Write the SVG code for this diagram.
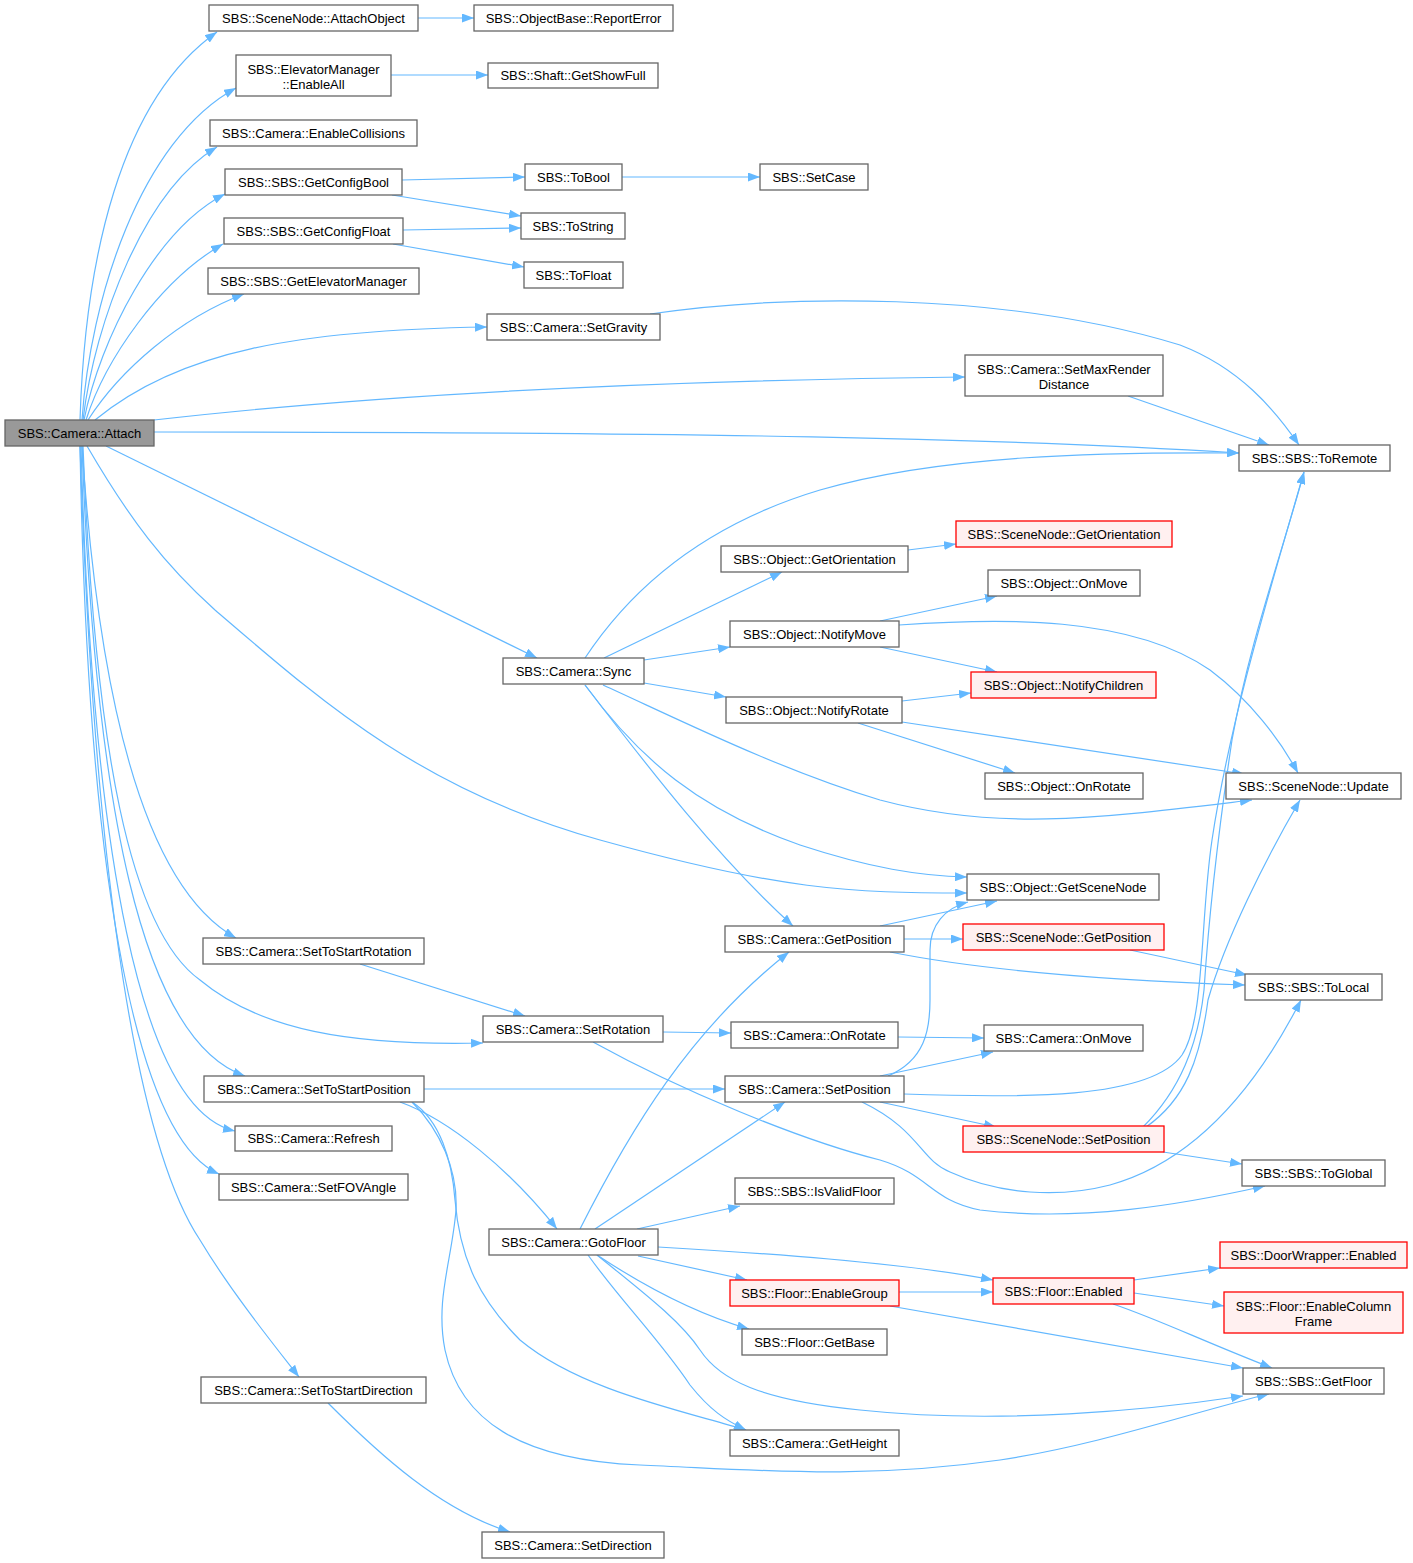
<svg xmlns="http://www.w3.org/2000/svg" width="1413" height="1563" viewBox="0 0 1413 1563">
<style>
.n rect{fill:#ffffff;stroke:#666666;stroke-width:1.3}
.r rect{fill:#fff0f0;stroke:#ff0000;stroke-width:1.3}
.g rect{fill:#999999;stroke:#666666;stroke-width:1.3}
text{font-family:"Liberation Sans",Arial,Helvetica,sans-serif;font-size:13px;fill:#000000;text-anchor:middle}
#edges path{fill:none;stroke:#63b8ff;stroke-width:1.2;marker-end:url(#a)}
</style>
<defs>
<marker id="a" markerWidth="12" markerHeight="9" refX="12" refY="4.5" orient="auto" markerUnits="userSpaceOnUse"><path d="M0,0 L12,4.5 L0,9 z" fill="#63b8ff"/></marker>
</defs>
<rect width="1413" height="1563" fill="#ffffff"/>
<g id="edges">
<path d="M80,420 C85,260 120,100 217,32"/>
<path d="M82,420 C90,300 140,140 236,88"/>
<path d="M83,420 C95,320 145,190 217,147"/>
<path d="M84,420 C100,340 155,230 225,194"/>
<path d="M86,420 C105,360 160,280 223,244"/>
<path d="M88,420 C120,370 180,318 244,294"/>
<path d="M95,420 C180,350 300,330 487,327"/>
<path d="M154,420 C400,392 700,380 965,377"/>
<path d="M154,432 C700,432 1000,438 1239,453"/>
<path d="M106,446 L537,658"/>
<path d="M87,446 C130,520 165,565 215,610 C320,700 420,790 600,840 C780,890 850,893 967,893"/>
<path d="M82,446 C100,720 150,890 236,938"/>
<path d="M83,446 C95,750 130,930 200,980 C260,1030 350,1046 483,1043"/>
<path d="M82,446 C95,800 140,1040 245,1076"/>
<path d="M81,446 C92,850 140,1110 235,1131"/>
<path d="M80,446 C88,900 140,1140 219,1174"/>
<path d="M80,446 C95,900 140,1150 200,1240 C230,1290 270,1340 299,1377"/>
<path d="M418,18 L474,18"/>
<path d="M391,75 L488,75"/>
<path d="M402,180 L525,177"/>
<path d="M392,195 L521,216"/>
<path d="M622,177 L760,177"/>
<path d="M403,230 L521,228"/>
<path d="M393,244 L524,267"/>
<path d="M650,314 C780,295 1000,290 1180,345 C1240,368 1275,410 1299,445"/>
<path d="M1128,396 L1269,445"/>
<path d="M585,658 C640,575 720,520 820,490 C940,455 1100,452 1239,453"/>
<path d="M604,658 L782,572"/>
<path d="M908,550 L956,544"/>
<path d="M644,660 L730,647"/>
<path d="M880,621 L997,596"/>
<path d="M880,647 L997,672"/>
<path d="M899,625 C1000,618 1130,615 1210,670 C1250,700 1280,740 1298,773"/>
<path d="M644,683 L726,697"/>
<path d="M902,701 L971,693"/>
<path d="M858,723 L1015,773"/>
<path d="M902,722 L1244,774"/>
<path d="M603,685 C680,720 780,770 880,800 C1000,832 1100,818 1252,800"/>
<path d="M585,685 C640,760 700,810 800,845 C870,868 920,876 967,877"/>
<path d="M585,685 C650,770 720,860 793,926"/>
<path d="M880,926 L997,901"/>
<path d="M904,939 L963,939"/>
<path d="M890,952 C980,970 1100,980 1245,985"/>
<path d="M1130,950 L1247,975"/>
<path d="M360,964 L525,1016"/>
<path d="M663,1032 L731,1033"/>
<path d="M898,1037 L984,1038"/>
<path d="M593,1042 C680,1090 800,1140 880,1160 C930,1175 930,1200 980,1210 C1080,1222 1180,1205 1265,1186"/>
<path d="M424,1089 L725,1089"/>
<path d="M400,1102 C450,1120 510,1170 557,1229"/>
<path d="M412,1102 C440,1120 452,1160 455,1200 C460,1260 480,1300 520,1340 C580,1390 680,1410 746,1430"/>
<path d="M412,1102 C440,1130 458,1170 456,1210 C452,1260 435,1300 445,1350 C460,1420 520,1460 640,1465 C760,1470 860,1480 1000,1460 C1100,1445 1200,1410 1269,1394"/>
<path d="M580,1229 C630,1130 690,1030 789,952"/>
<path d="M595,1229 L785,1102"/>
<path d="M637,1229 L740,1206"/>
<path d="M658,1247 C760,1253 900,1262 993,1280"/>
<path d="M638,1256 L747,1280"/>
<path d="M597,1255 C650,1290 700,1315 749,1329"/>
<path d="M588,1255 C620,1300 660,1340 690,1385 C710,1410 725,1420 746,1430"/>
<path d="M597,1255 C640,1290 680,1320 700,1350 C720,1380 760,1400 860,1410 C1000,1425 1150,1410 1243,1396"/>
<path d="M899,1292 L993,1292"/>
<path d="M890,1306 L1243,1368"/>
<path d="M1134,1280 L1220,1268"/>
<path d="M1134,1293 L1224,1306"/>
<path d="M1113,1304 C1160,1320 1200,1340 1272,1368"/>
<path d="M328,1403 C380,1455 440,1510 510,1532"/>
<path d="M888,1076 C925,1060 930,1030 930,1000 L930,950 C930,925 945,908 968,902"/>
<path d="M880,1076 L993,1052"/>
<path d="M904,1094 C1020,1098 1150,1100 1182,1055 C1205,1020 1200,920 1212,840 C1230,720 1270,590 1304,472"/>
<path d="M1143,1127 C1180,1090 1198,1045 1204,990 C1210,900 1220,820 1232,740 C1250,640 1280,560 1304,472"/>
<path d="M1146,1127 C1185,1100 1200,1060 1208,1000 C1225,940 1265,860 1300,800"/>
<path d="M880,1102 L996,1127"/>
<path d="M1163,1152 L1242,1164"/>
<path d="M862,1102 C920,1130 920,1160 950,1172 C1000,1195 1060,1198 1110,1185 C1200,1160 1260,1080 1301,1000"/>
</g>
<g id="n_attach" class="g"><rect x="5" y="420" width="149" height="26"/><text x="79.5" y="437.5">SBS::Camera::Attach</text></g>
<g id="n_ao" class="n"><rect x="209" y="5" width="209" height="26"/><text x="313.5" y="22.5">SBS::SceneNode::AttachObject</text></g>
<g id="n_re" class="n"><rect x="474" y="5" width="199" height="26"/><text x="573.5" y="22.5">SBS::ObjectBase::ReportError</text></g>
<g id="n_ea" class="n"><rect x="236" y="55" width="155" height="41"/><text x="313.5" y="73.5">SBS::ElevatorManager</text><text x="313.5" y="88.5">::EnableAll</text></g>
<g id="n_gsf" class="n"><rect x="488" y="63" width="170" height="25"/><text x="573" y="80">SBS::Shaft::GetShowFull</text></g>
<g id="n_ec" class="n"><rect x="210" y="120" width="207" height="26"/><text x="313.5" y="137.5">SBS::Camera::EnableCollisions</text></g>
<g id="n_gcb" class="n"><rect x="225" y="169" width="177" height="26"/><text x="313.5" y="186.5">SBS::SBS::GetConfigBool</text></g>
<g id="n_tb" class="n"><rect x="525" y="164" width="97" height="26"/><text x="573.5" y="181.5">SBS::ToBool</text></g>
<g id="n_sc" class="n"><rect x="760" y="164" width="108" height="26"/><text x="814" y="181.5">SBS::SetCase</text></g>
<g id="n_gcf" class="n"><rect x="224" y="218" width="179" height="26"/><text x="313.5" y="235.5">SBS::SBS::GetConfigFloat</text></g>
<g id="n_ts" class="n"><rect x="521" y="213" width="104" height="26"/><text x="573" y="230.5">SBS::ToString</text></g>
<g id="n_tf" class="n"><rect x="524" y="262" width="99" height="26"/><text x="573.5" y="279.5">SBS::ToFloat</text></g>
<g id="n_gem" class="n"><rect x="208" y="268" width="211" height="26"/><text x="313.5" y="285.5">SBS::SBS::GetElevatorManager</text></g>
<g id="n_sg" class="n"><rect x="487" y="314" width="173" height="26"/><text x="573.5" y="331.5">SBS::Camera::SetGravity</text></g>
<g id="n_smr" class="n"><rect x="965" y="355" width="198" height="41"/><text x="1064" y="373.5">SBS::Camera::SetMaxRender</text><text x="1064" y="388.5">Distance</text></g>
<g id="n_tr" class="n"><rect x="1239" y="445" width="151" height="26"/><text x="1314.5" y="462.5">SBS::SBS::ToRemote</text></g>
<g id="n_sngo" class="r"><rect x="956" y="521" width="216" height="26"/><text x="1064" y="538.5">SBS::SceneNode::GetOrientation</text></g>
<g id="n_ogo" class="n"><rect x="721" y="546" width="187" height="26"/><text x="814.5" y="563.5">SBS::Object::GetOrientation</text></g>
<g id="n_om" class="n"><rect x="988" y="570" width="152" height="26"/><text x="1064" y="587.5">SBS::Object::OnMove</text></g>
<g id="n_nm" class="n"><rect x="730" y="621" width="169" height="26"/><text x="814.5" y="638.5">SBS::Object::NotifyMove</text></g>
<g id="n_sync" class="n"><rect x="503" y="658" width="141" height="26"/><text x="573.5" y="675.5">SBS::Camera::Sync</text></g>
<g id="n_nc" class="r"><rect x="971" y="672" width="185" height="26"/><text x="1063.5" y="689.5">SBS::Object::NotifyChildren</text></g>
<g id="n_nr" class="n"><rect x="726" y="697" width="176" height="26"/><text x="814" y="714.5">SBS::Object::NotifyRotate</text></g>
<g id="n_or" class="n"><rect x="985" y="773" width="158" height="26"/><text x="1064" y="790.5">SBS::Object::OnRotate</text></g>
<g id="n_snu" class="n"><rect x="1226" y="773" width="175" height="26"/><text x="1313.5" y="790.5">SBS::SceneNode::Update</text></g>
<g id="n_gsn" class="n"><rect x="967" y="874" width="192" height="26"/><text x="1063" y="891.5">SBS::Object::GetSceneNode</text></g>
<g id="n_sngp" class="r"><rect x="963" y="924" width="201" height="26"/><text x="1063.5" y="941.5">SBS::SceneNode::GetPosition</text></g>
<g id="n_gp" class="n"><rect x="725" y="926" width="179" height="26"/><text x="814.5" y="943.5">SBS::Camera::GetPosition</text></g>
<g id="n_stsr" class="n"><rect x="203" y="938" width="221" height="26"/><text x="313.5" y="955.5">SBS::Camera::SetToStartRotation</text></g>
<g id="n_tl" class="n"><rect x="1245" y="974" width="137" height="26"/><text x="1313.5" y="991.5">SBS::SBS::ToLocal</text></g>
<g id="n_sr" class="n"><rect x="483" y="1016" width="180" height="26"/><text x="573" y="1033.5">SBS::Camera::SetRotation</text></g>
<g id="n_cor" class="n"><rect x="731" y="1022" width="167" height="26"/><text x="814.5" y="1039.5">SBS::Camera::OnRotate</text></g>
<g id="n_com" class="n"><rect x="984" y="1025" width="159" height="26"/><text x="1063.5" y="1042.5">SBS::Camera::OnMove</text></g>
<g id="n_stsp" class="n"><rect x="204" y="1076" width="220" height="26"/><text x="314" y="1093.5">SBS::Camera::SetToStartPosition</text></g>
<g id="n_sp" class="n"><rect x="725" y="1076" width="179" height="26"/><text x="814.5" y="1093.5">SBS::Camera::SetPosition</text></g>
<g id="n_ref" class="n"><rect x="235" y="1126" width="157" height="25"/><text x="313.5" y="1143">SBS::Camera::Refresh</text></g>
<g id="n_snsp" class="r"><rect x="963" y="1126" width="201" height="26"/><text x="1063.5" y="1143.5">SBS::SceneNode::SetPosition</text></g>
<g id="n_tg" class="n"><rect x="1242" y="1160" width="143" height="26"/><text x="1313.5" y="1177.5">SBS::SBS::ToGlobal</text></g>
<g id="n_fov" class="n"><rect x="219" y="1174" width="189" height="26"/><text x="313.5" y="1191.5">SBS::Camera::SetFOVAngle</text></g>
<g id="n_ivf" class="n"><rect x="735" y="1178" width="159" height="26"/><text x="814.5" y="1195.5">SBS::SBS::IsValidFloor</text></g>
<g id="n_gf" class="n"><rect x="489" y="1229" width="169" height="26"/><text x="573.5" y="1246.5">SBS::Camera::GotoFloor</text></g>
<g id="n_dwe" class="r"><rect x="1220" y="1242" width="187" height="26"/><text x="1313.5" y="1259.5">SBS::DoorWrapper::Enabled</text></g>
<g id="n_fe" class="r"><rect x="993" y="1278" width="141" height="26"/><text x="1063.5" y="1295.5">SBS::Floor::Enabled</text></g>
<g id="n_feg" class="r"><rect x="730" y="1280" width="169" height="26"/><text x="814.5" y="1297.5">SBS::Floor::EnableGroup</text></g>
<g id="n_fecf" class="r"><rect x="1224" y="1292" width="179" height="41"/><text x="1313.5" y="1310.5">SBS::Floor::EnableColumn</text><text x="1313.5" y="1325.5">Frame</text></g>
<g id="n_gb" class="n"><rect x="742" y="1329" width="145" height="26"/><text x="814.5" y="1346.5">SBS::Floor::GetBase</text></g>
<g id="n_sgf" class="n"><rect x="1243" y="1368" width="141" height="26"/><text x="1313.5" y="1385.5">SBS::SBS::GetFloor</text></g>
<g id="n_stsd" class="n"><rect x="201" y="1377" width="225" height="26"/><text x="313.5" y="1394.5">SBS::Camera::SetToStartDirection</text></g>
<g id="n_gh" class="n"><rect x="730" y="1430" width="169" height="26"/><text x="814.5" y="1447.5">SBS::Camera::GetHeight</text></g>
<g id="n_sd" class="n"><rect x="482" y="1532" width="182" height="26"/><text x="573" y="1549.5">SBS::Camera::SetDirection</text></g>
</svg>
